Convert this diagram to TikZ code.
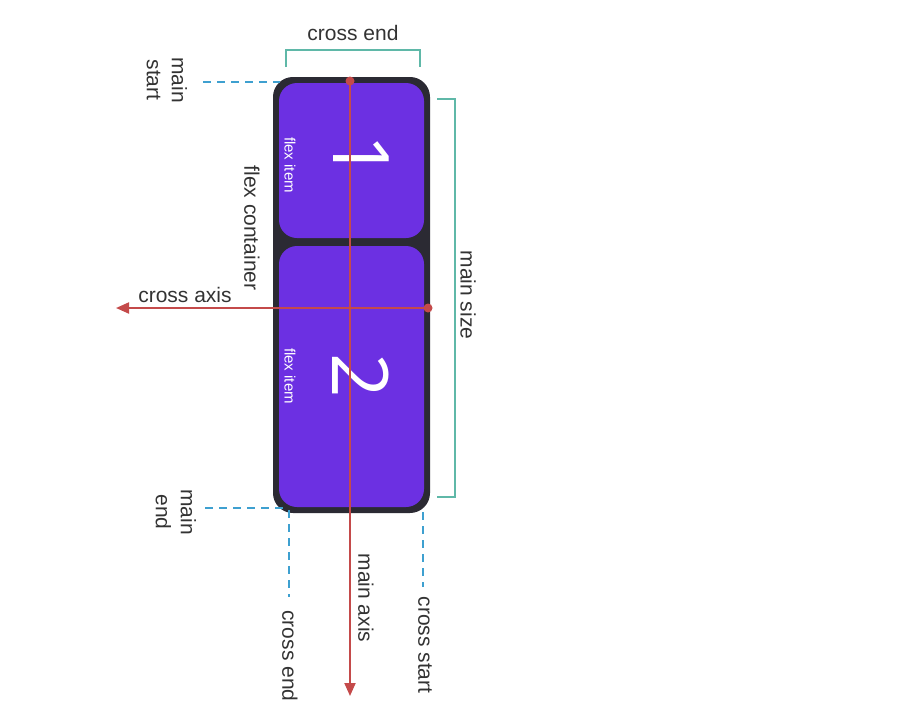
\documentclass[tikz,border=0pt]{standalone}
\usepackage{fontspec}
\setmainfont{Liberation Sans}
\newfontfamily\numfont{Open Sans}
\usetikzlibrary{positioning,arrows.meta}
\definecolor{fpurple}{RGB}{108,48,226}
\definecolor{fdark}{RGB}{43,42,51}
\definecolor{fred}{RGB}{196,74,74}
\definecolor{fteal}{RGB}{95,184,168}
\definecolor{fblue}{RGB}{62,160,208}
\definecolor{ftext}{RGB}{51,51,51}

\begin{document}
\begin{tikzpicture}[
  x=1pt, y=-1pt, font=\fontsize{21}{25}\selectfont, text=ftext,
  fcont/.style={draw=fdark, fill=fdark, line width=6pt, rounded corners=17pt,
                minimum width=151pt, minimum height=430pt, inner sep=0pt},
  fitem/.style={fill=fpurple, rounded corners=18pt, minimum width=145pt, inner sep=0pt},
  fnum/.style={text=white, font=\numfont\fontsize{78}{78}\selectfont, rotate=-90, inner sep=0pt},
  fsmall/.style={text=white, font=\fontsize{15}{15}\selectfont, rotate=-90, inner sep=0pt},
  flab/.style={rotate=-90, align=center, inner sep=0pt},
  faxis/.style={draw=fred, line width=2pt, -{Triangle[length=13pt,width=11pt]}},
  fdot/.style={circle, fill=fred, minimum size=9pt, inner sep=0pt},
  fbrk/.style={draw=fteal, line width=2pt},
  fdash/.style={draw=fblue, line width=2pt, dash pattern=on 8pt off 6pt},
]
  \useasboundingbox (0,0) rectangle (918,726);
  % container and items
  \node[fcont] (cont) at (351.5,295) {};
  \node[fitem, minimum height=155pt] (item1) at (351.5,160.5) {};
  \node[fitem, minimum height=261pt] (item2) at (351.5,376.5) {};
  \node[fnum] (num1) at (361,157) {1};
  \node[fnum] (num2) at (361,376) {2};
  \node[fsmall] (fi1) at (290,165) {flex item};
  \node[fsmall] (fi2) at (290,376) {flex item};
  \node[flab] (contlab) at (252,228) {flex container};
  % axes
  \coordinate (mainend) at (350,696);
  \coordinate (crossend) at (116,308);
  \node[fdot] (mdot) at (350,81) {};
  \node[fdot] (cdot) at (428,308) {};
  \draw[faxis] (mdot.center) -- (mainend);
  \draw[faxis] (cdot.center) -- (crossend);
  \node[flab] (malab) at (366,598) {main axis};
  \node (calab) at (185,295) {cross axis};
  % brackets
  \coordinate (bt1) at (286,67);
  \coordinate (bt2) at (420,67);
  \draw[fbrk] (bt1) -- (286,50) -- (420,50) -- (bt2);
  \node (celab) at (353,33) {cross end};
  \coordinate (br1) at (437,99);
  \coordinate (br2) at (437,497);
  \draw[fbrk] (br1) -- (455,99) -- (455,497) -- (br2);
  \node[flab] (mslab) at (468,295) {main size};
  % dashed guides
  \coordinate (ms1) at (203,82);
  \coordinate (ms2) at (280,82);
  \draw[fdash] (ms1) -- (ms2);
  \node[flab] (mstlab) at (167,80) {main\\start};
  \coordinate (me1) at (205,508);
  \coordinate (me2) at (288,508);
  \draw[fdash] (me1) -- (me2);
  \node[flab] (melab) at (176,512) {main\\end};
  \coordinate (ce1) at (289,510);
  \coordinate (ce2) at (289,597);
  \draw[fdash] (ce1) -- (ce2);
  \node[flab] (ce2lab) at (290,656) {cross end};
  \coordinate (cs1) at (423,512);
  \coordinate (cs2) at (423,587);
  \draw[fdash] (cs1) -- (cs2);
  \node[flab] (cslab) at (425,645) {cross start};
\end{tikzpicture}
\end{document}
